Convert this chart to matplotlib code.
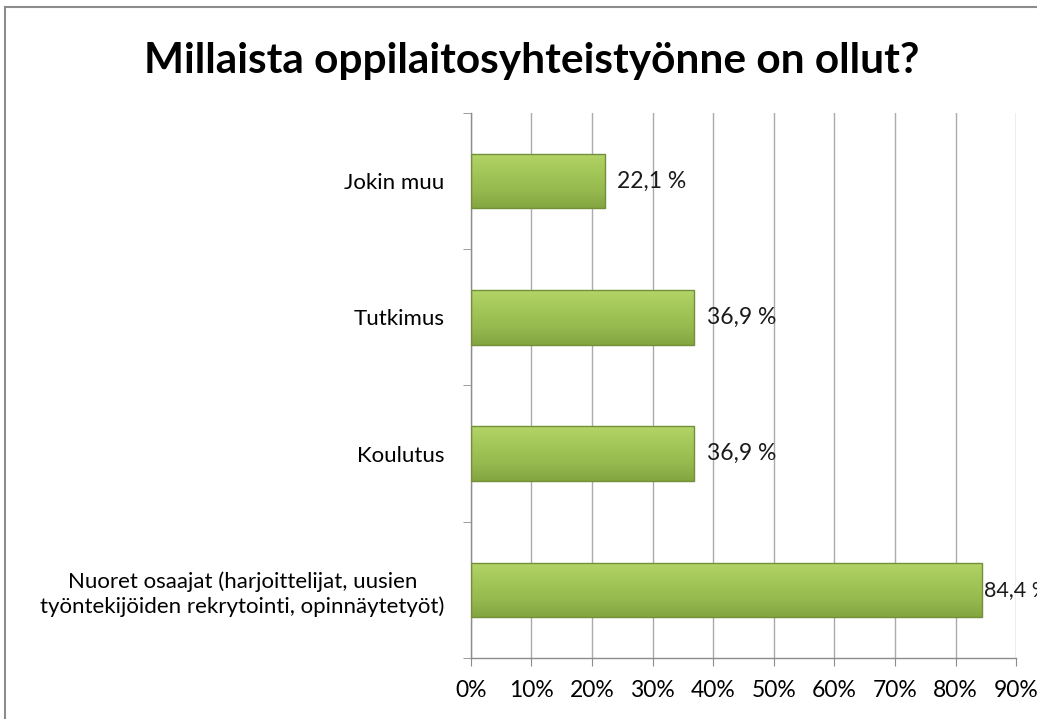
import numpy as np
import matplotlib
matplotlib.use("Agg")
import matplotlib.pyplot as plt
from matplotlib.patches import Rectangle
from matplotlib.lines import Line2D

categories = ["Nuoret osaajat (harjoittelijat, uusien\ntyöntekijöiden rekrytointi, opinnäytetyöt)",
              "Koulutus", "Tutkimus", "Jokin muu"]
values = [84.4, 36.9, 36.9, 22.1]
xticks = [0, 10, 20, 30, 40, 50, 60, 70, 80, 90]

plt.rcParams['font.family'] = ['Lato', 'DejaVu Sans']

fig = plt.figure(figsize=(10.37, 7.19), dpi=100)
ax = fig.add_axes([0.454, 0.085, 0.526, 0.758])

# outer chart frame (only top and left visible in the picture)
fig.add_artist(Line2D([0.005, 1.0], [0.990, 0.990], transform=fig.transFigure, color="#8c8c8c", lw=1.5))
fig.add_artist(Line2D([0.005, 0.005], [0.0, 0.990], transform=fig.transFigure, color="#8c8c8c", lw=1.5))

ypos = np.arange(len(categories))
bar_h = 0.4
grad = np.linspace(0, 1, 256).reshape(-1, 1)
cmap = matplotlib.colors.LinearSegmentedColormap.from_list(
    "g", ["#84a540", "#97ba4f", "#a4c759", "#b3d468"])

for y, v in zip(ypos, values):
    rect = Rectangle((0, y - bar_h / 2), v, bar_h, facecolor="none",
                     edgecolor="#748f3a", lw=1.0, zorder=3)
    ax.add_patch(rect)
    im = ax.imshow(grad, cmap=cmap, aspect="auto", origin="lower",
                   extent=[0, v, y - bar_h / 2, y + bar_h / 2], zorder=2)
    im.set_clip_path(rect)
    # label squeezed against the bar when it is near the right edge
    if v > 80:
        off, fs = 0.3, 15.5
    else:
        off, fs = 2.0, 16.5
    ax.text(v + off, y, f"{v:.1f} %".replace(".", ","), va="center", ha="left",
            fontsize=fs, color="#1a1a1a", zorder=4)

ax.set_xlim(0, 90)
ax.set_ylim(-0.5, len(categories) - 0.5)
ax.set_xticks(xticks)
ax.set_xticklabels([f"{t}%" for t in xticks], fontsize=16.5)
ax.set_yticks(ypos)
ax.set_yticklabels(categories, fontsize=16, linespacing=1.25)
ax.set_yticks(np.arange(-0.5, len(categories), 1.0), minor=True)
ax.tick_params(axis="y", which="major", length=0, pad=19)
ax.tick_params(axis="y", which="minor", length=6, color="#8c8c8c", direction="out")
ax.tick_params(axis="x", length=6, color="#8c8c8c", direction="out", pad=10)
for lab in ax.get_yticklabels():
    lab.set_horizontalalignment("right")
    lab.set_multialignment("center")

ax.grid(axis="x", color="#ababab", lw=1.0, zorder=0)
ax.set_axisbelow(True)
for s in ["top", "right"]:
    ax.spines[s].set_visible(False)
for s in ["left", "bottom"]:
    ax.spines[s].set_color("#8c8c8c")
    ax.spines[s].set_linewidth(1.0)

fig.text(0.513, 0.915, "Millaista oppilaitosyhteistyönne on ollut?", ha="center", va="center",
         fontsize=30.5, fontweight="bold", color="black")

fig.savefig("out.png", dpi=100, facecolor="white")
